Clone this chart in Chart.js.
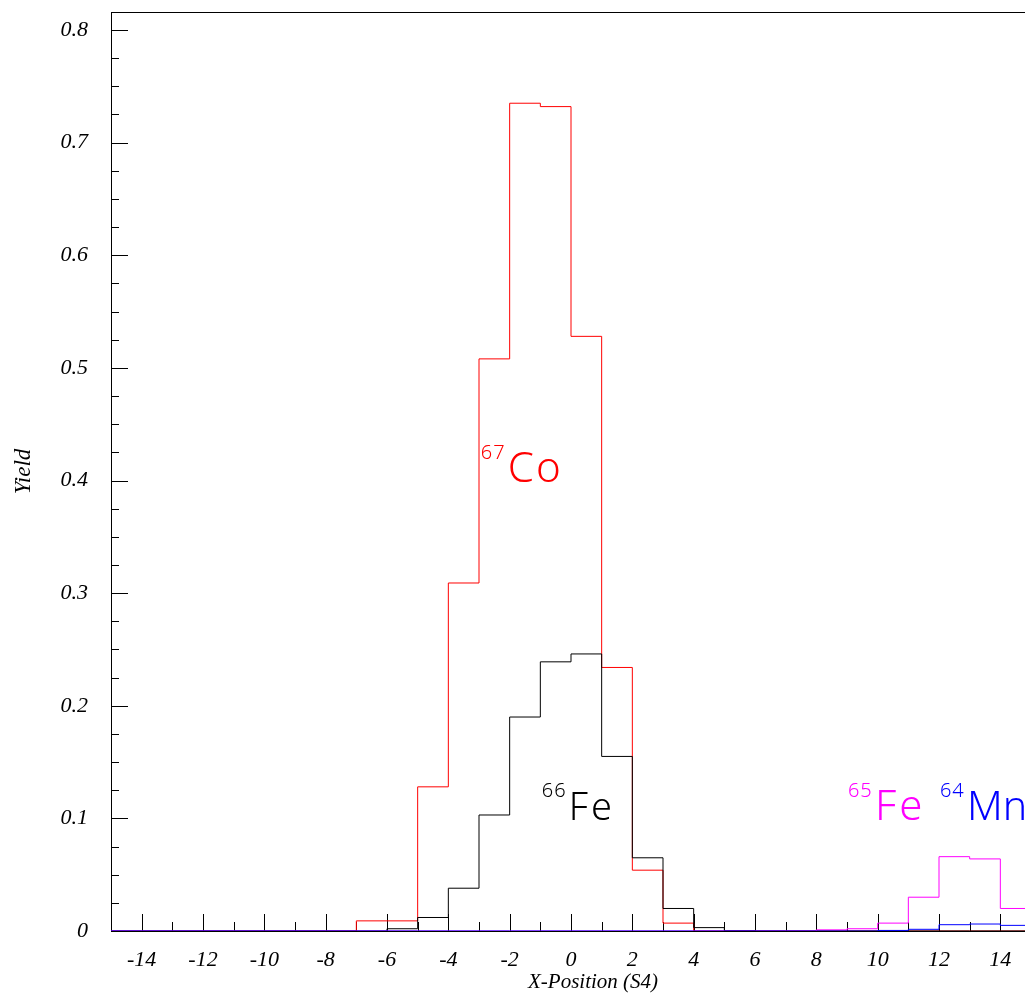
<!DOCTYPE html>
<html>
<head>
<meta charset="utf-8">
<title>Yield vs X-Position (S4)</title>
<script src="https://cdn.jsdelivr.net/npm/chart.js@4/dist/chart.umd.min.js"></script>
<style>
  html, body { margin: 0; padding: 0; background: #ffffff; overflow: hidden; }
  canvas { display: block; }
</style>
</head>
<body>
<canvas id="yieldChart" width="1040" height="1001"></canvas>
<script>
// Histogram bins: lower edges, each bin is 1 unit wide, last bin ends at 15
const binLow = [-15, -14, -13, -12, -11, -10, -9, -8, -7, -6, -5, -4, -3, -2, -1,
                0, 1, 2, 3, 4, 5, 6, 7, 8, 9, 10, 11, 12, 13, 14];
const binHigh = 15;

// Yield per bin for each isotope
const yieldCo67 = [0, 0, 0, 0, 0, 0, 0, 0, 0.009, 0.009, 0.128, 0.309, 0.508, 0.735, 0.732,
                   0.528, 0.234, 0.054, 0.007, 0, 0, 0, 0, 0, 0, 0, 0, 0, 0, 0];
const yieldFe66 = [0, 0, 0, 0, 0, 0, 0, 0, 0, 0.002, 0.012, 0.038, 0.103, 0.190, 0.239,
                   0.246, 0.155, 0.065, 0.020, 0.003, 0.0003, 0, 0, 0, 0, 0, 0, 0, 0, 0];
const yieldFe65 = [0, 0, 0, 0, 0, 0, 0, 0, 0, 0, 0, 0, 0, 0, 0,
                   0, 0, 0, 0, 0, 0, 0, 0, 0.001, 0.002, 0.007, 0.030, 0.066, 0.064, 0.020];
const yieldMn64 = [0, 0, 0, 0, 0, 0, 0, 0, 0, 0, 0, 0, 0, 0, 0,
                   0, 0, 0, 0, 0, 0, 0, 0, 0, 0, 0.0005, 0.0015, 0.0056, 0.0062, 0.005];

// Axis ticks and labels
const xTickValues = [-14, -12, -10, -8, -6, -4, -2, 0, 2, 4, 6, 8, 10, 12, 14];
const xTickLabels = ['-14', '-12', '-10', '-8', '-6', '-4', '-2', '0', '2', '4', '6', '8', '10', '12', '14'];
const yTickValues = [0, 0.1, 0.2, 0.3, 0.4, 0.5, 0.6, 0.7, 0.8];
const yTickLabels = ['0', '0.1', '0.2', '0.3', '0.4', '0.5', '0.6', '0.7', '0.8'];

const X_MIN = -15, X_MAX = 15, Y_MIN = 0, Y_MAX = 0.816;

// Isotope labels, anchored in data coordinates (left edge of mass number, baseline of symbol)
const isotopeLabels = [
  { mass: '67', symbol: 'Co', color: '#ff0000', x: -2.94, y: 0.399, size: 42, spacing: 2 },
  { mass: '66', symbol: 'Fe', color: '#000000', x: -0.95, y: 0.099, size: 38, spacing: 3 },
  { mass: '65', symbol: 'Fe', color: '#ff00ff', x: 9.03, y: 0.0986, size: 42, spacing: 3 },
  { mass: '64', symbol: 'Mn', color: '#0000ff', x: 12.03, y: 0.0986, size: 41, spacing: 0 }
];
const labelFamily = '"Noto Sans", "Liberation Sans", Arial, sans-serif';

// Turn bin contents into step-line points (value held across each bin)
function stepPoints(values) {
  const pts = binLow.map((x, i) => ({ x: x, y: values[i] }));
  pts.push({ x: binHigh, y: values[values.length - 1] });
  return pts;
}

function histDataset(label, values, color) {
  return {
    label: label,
    data: stepPoints(values),
    borderColor: color,
    backgroundColor: color,
    borderWidth: 1,
    stepped: 'before',
    pointRadius: 0,
    fill: false,
    tension: 0
  };
}

// Frame plus inward-pointing major/minor tick marks
const frameTicks = {
  id: 'frameTicks',
  beforeDatasetsDraw(chart) {
    const { ctx, chartArea: a, scales: { x, y } } = chart;
    ctx.save();
    ctx.strokeStyle = '#000000';
    ctx.lineWidth = 1;
    ctx.strokeRect(Math.round(a.left) + 0.5, Math.round(a.top) + 0.5,
                   Math.round(a.right - a.left), Math.round(a.bottom - a.top));
    ctx.beginPath();
    const bottom = Math.round(a.bottom);
    for (let v = X_MIN; v <= X_MAX; v += 1) {
      const px = Math.round(x.getPixelForValue(v)) + 0.5;
      const len = (v % 2 === 0) ? 17 : 9;
      ctx.moveTo(px, bottom);
      ctx.lineTo(px, bottom - len);
    }
    const left = Math.round(a.left);
    for (let k = 1; k * 0.025 <= Y_MAX; k++) {
      const v = k * 0.025;
      const py = Math.round(y.getPixelForValue(v)) + 0.5;
      const len = (k % 4 === 0) ? 17 : 8;
      ctx.moveTo(left, py);
      ctx.lineTo(left + len, py);
    }
    ctx.stroke();
    ctx.restore();
  },
  afterDatasetsDraw(chart) {
    const { ctx, chartArea: a, scales: { x, y } } = chart;
    ctx.save();
    // isotope labels: mass number as superscript, then element symbol
    isotopeLabels.forEach(l => {
      const px = x.getPixelForValue(l.x);
      const py = y.getPixelForValue(l.y);
      ctx.fillStyle = l.color;
      ctx.textBaseline = 'alphabetic';
      ctx.textAlign = 'left';
      ctx.letterSpacing = '1px';
      ctx.font = '300 20px ' + labelFamily;
      ctx.fillText(l.mass, px, py - 23);
      ctx.letterSpacing = l.spacing + 'px';
      ctx.font = '300 ' + l.size + 'px ' + labelFamily;
      ctx.fillText(l.symbol, px + 27, py);
    });
    ctx.letterSpacing = '0px';
    // x axis title
    ctx.fillStyle = '#000000';
    ctx.font = 'italic 21px "Liberation Serif", "Times New Roman", serif';
    ctx.textAlign = 'left';
    ctx.textBaseline = 'alphabetic';
    ctx.fillText('X-Position (S4)', a.left + 417, 988);
    ctx.restore();
  }
};

const tickFont = { family: '"Liberation Serif", "Times New Roman", serif', style: 'italic', size: 22, lineHeight: 1 };

new Chart(document.getElementById('yieldChart'), {
  type: 'line',
  data: {
    datasets: [
      histDataset('64Mn', yieldMn64, '#0000ff'),
      histDataset('65Fe', yieldFe65, '#ff00ff'),
      histDataset('66Fe', yieldFe66, '#000000'),
      histDataset('67Co', yieldCo67, '#ff0000')
    ]
  },
  options: {
    responsive: false,
    devicePixelRatio: 1,
    animation: false,
    events: [],
    layout: { padding: { top: 12, right: 9, left: 0, bottom: 0 } },
    plugins: { legend: { display: false }, tooltip: { enabled: false }, title: { display: false } },
    scales: {
      x: {
        type: 'linear',
        min: X_MIN,
        max: X_MAX,
        grid: { display: false },
        border: { display: false },
        afterBuildTicks: s => { s.ticks = xTickValues.map(v => ({ value: v })); },
        afterFit: s => { s.height = 70; s.paddingLeft = 0; s.paddingRight = 0; },
        ticks: {
          autoSkip: false,
          maxRotation: 0,
          padding: 10,
          color: '#000000',
          font: tickFont,
          callback: (v, i) => xTickLabels[i]
        }
      },
      y: {
        type: 'linear',
        min: Y_MIN,
        max: Y_MAX,
        grid: { display: false },
        border: { display: false },
        afterBuildTicks: s => { s.ticks = yTickValues.map(v => ({ value: v })); },
        afterFit: s => { s.width = 111; s.paddingTop = 0; s.paddingBottom = 0; },
        ticks: {
          autoSkip: false,
          padding: 15,
          color: '#000000',
          font: tickFont,
          callback: (v, i) => yTickLabels[i]
        },
        title: {
          display: true,
          text: 'Yield',
          color: '#000000',
          font: { family: '"Liberation Serif", "Times New Roman", serif', style: 'italic', size: 23, lineHeight: 1.2 },
          padding: { top: 10, bottom: 0 }
        }
      }
    }
  },
  plugins: [frameTicks]
});
</script>
</body>
</html>
